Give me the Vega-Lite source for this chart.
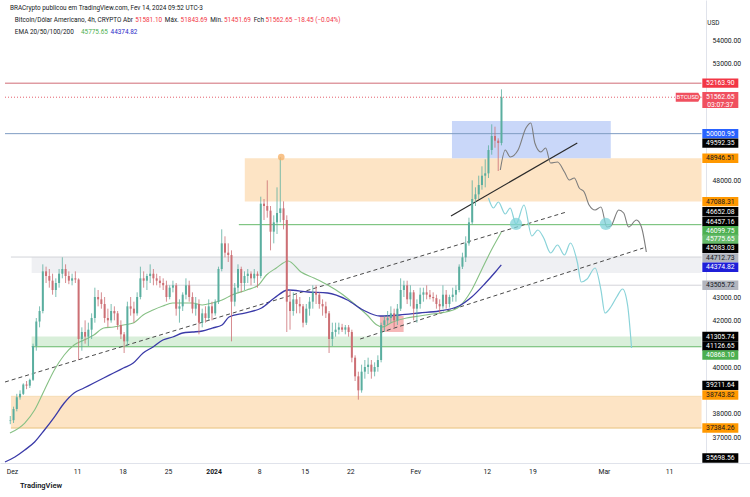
{
"$schema": "https://vega.github.io/schema/vega-lite/v6.json",
"width": 750, "height": 463,
"autosize": {"type": "none"},
"padding": {"left": 0, "top": 0, "right": 0, "bottom": 34},
"background": "#ffffff",
"config": {"view": {"stroke": null}, "font": "Roboto"},
"title": {"text": "TradingView", "orient": "bottom", "anchor": "start", "fontSize": 7.5, "fontWeight": 600, "color": "#131722", "offset": 7, "dx": 20},
"datasets": {
"bands": [
{"t1":"2023-11-30T20:20Z","t2":"2024-03-16T00:00Z","p1":38743.82,"p2":37384.26,"kind":"zone_orange"},
{"t1":"2024-01-05T19:00Z","t2":"2024-03-16T00:00Z","p1":48946.51,"p2":47088.31,"kind":"zone_orange"},
{"t1":"2023-12-04T00:45Z","t2":"2024-03-16T00:00Z","p1":44712.73,"p2":44030,"kind":"zone_gray"},
{"t1":"2023-12-04T00:45Z","t2":"2024-03-16T00:00Z","p1":41305.74,"p2":40868.10,"kind":"zone_green"},
{"t1":"2024-02-06T15:20Z","t2":"2024-03-02T01:10Z","p1":50543,"p2":48946.51,"kind":"zone_blue"},
{"t1":"2024-01-26T13:40Z","t2":"2024-01-30T05:00Z","p1":42186,"p2":41500,"kind":"zone_pink"}
],
"levels": [
{"t1":"2023-11-29T22:30Z","t2":"2024-03-16T00:00Z","p":52163.90,"kind":"lvl_red"},
{"t1":"2023-11-29T22:30Z","t2":"2024-03-16T00:00Z","p":50000.95,"kind":"lvl_blue"},
{"t1":"2024-01-04T21:10Z","t2":"2024-03-16T00:00Z","p":46099.75,"kind":"lvl_green"},
{"t1":"2023-12-04T00:45Z","t2":"2024-03-16T00:00Z","p":40868.10,"kind":"lvl_green"},
{"t1":"2023-12-24T15:50Z","t2":"2024-03-16T00:00Z","p":43505.72,"kind":"lvl_gray"},
{"t1":"2023-11-30T20:20Z","t2":"2024-03-16T00:00Z","p":44712.73,"kind":"lvl_gray"},
{"t1":"2023-11-30T20:20Z","t2":"2024-03-16T00:00Z","p":37384.26,"kind":"lvl_gold"},
{"t1":"2023-11-30T20:20Z","t2":"2024-03-16T00:00Z","p":38743.82,"kind":"lvl_goldlight"}
],
"current": [{"t1":"2023-11-29T22:30Z","t2":"2024-03-16T00:00Z","p":51562.65}],
"dashed": [
{"t1":"2023-11-29T22:30Z","p1":39357,"t2":"2024-02-24T05:30Z","p2":46643},
{"t1":"2024-01-23T12:45Z","p1":41200,"t2":"2024-03-07T01:25Z","p2":45100}
],
"solid": [{"t1":"2024-02-06T11:45Z","p1":46472,"t2":"2024-02-25T21:35Z","p2":49600}],
"emaA": [
{"t":"2023-11-30T16:48Z","p":37171},{"t":"2023-12-02T23:20Z","p":37600},{"t":"2023-12-04T11:45Z","p":38157},{"t":"2023-12-06T00:00Z","p":39014},{"t":"2023-12-07T12:30Z","p":39871},{"t":"2023-12-09T01:00Z","p":40514},{"t":"2023-12-10T13:20Z","p":40943},{"t":"2023-12-12T01:40Z","p":41157},{"t":"2023-12-13T14:10Z","p":41371},{"t":"2023-12-15T02:30Z","p":41671},{"t":"2023-12-16T15:00Z","p":41714},{"t":"2023-12-18T03:20Z","p":41800},{"t":"2023-12-19T15:40Z","p":41886},{"t":"2023-12-21T04:05Z","p":42229},{"t":"2023-12-22T16:30Z","p":42443},{"t":"2023-12-24T04:50Z","p":42614},{"t":"2023-12-25T17:15Z","p":42743},{"t":"2023-12-27T05:40Z","p":42743},{"t":"2023-12-28T18:00Z","p":42743},{"t":"2023-12-30T06:30Z","p":42657},{"t":"2023-12-31T19:00Z","p":42743},{"t":"2024-01-02T07:15Z","p":42871},{"t":"2024-01-03T19:40Z","p":43086},{"t":"2024-01-06T02:10Z","p":43300},{"t":"2024-01-07T21:50Z","p":43514},{"t":"2024-01-09T03:00Z","p":43943},{"t":"2024-01-10T15:20Z","p":44243},{"t":"2024-01-12T11:00Z","p":44543},{"t":"2024-01-14T10:20Z","p":44072},{"t":"2024-01-16T09:50Z","p":43815},{"t":"2024-01-18T12:40Z","p":43514},{"t":"2024-01-20T12:00Z","p":43172},{"t":"2024-01-22T11:20Z","p":42743},{"t":"2024-01-24T14:10Z","p":42229},{"t":"2024-01-26T02:40Z","p":41800},{"t":"2024-01-26T20:50Z","p":41714},{"t":"2024-01-28T13:00Z","p":41929},{"t":"2024-01-30T15:50Z","p":42100},{"t":"2024-02-01T15:10Z","p":42186},{"t":"2024-02-03T14:25Z","p":42272},{"t":"2024-02-05T17:30Z","p":42357},{"t":"2024-02-07T16:50Z","p":42572},{"t":"2024-02-09T16:05Z","p":43300},{"t":"2024-02-11T04:30Z","p":44157},{"t":"2024-02-12T16:50Z","p":45014},{"t":"2024-02-14T05:20Z","p":45776}
],
"emaB": [
{"t":"2023-11-29T22:30Z","p":35928},{"t":"2023-12-01T10:55Z","p":36143},{"t":"2023-12-02T23:20Z","p":36443},{"t":"2023-12-04T11:45Z","p":36786},{"t":"2023-12-06T00:00Z","p":37300},{"t":"2023-12-07T12:30Z","p":37857},{"t":"2023-12-09T01:00Z","p":38457},{"t":"2023-12-10T13:20Z","p":38886},{"t":"2023-12-12T01:40Z","p":39100},{"t":"2023-12-13T14:10Z","p":39314},{"t":"2023-12-15T02:30Z","p":39529},{"t":"2023-12-16T15:00Z","p":39743},{"t":"2023-12-18T03:20Z","p":39957},{"t":"2023-12-19T15:40Z","p":40171},{"t":"2023-12-21T04:05Z","p":40600},{"t":"2023-12-22T16:30Z","p":40857},{"t":"2023-12-24T04:50Z","p":41157},{"t":"2023-12-25T17:15Z","p":41286},{"t":"2023-12-27T05:40Z","p":41457},{"t":"2023-12-28T18:00Z","p":41500},{"t":"2023-12-30T06:30Z","p":41543},{"t":"2023-12-31T19:00Z","p":41671},{"t":"2024-01-02T07:15Z","p":41800},{"t":"2024-01-03T08:40Z","p":42143},{"t":"2024-01-05T19:00Z","p":42314},{"t":"2024-01-08T08:50Z","p":42529},{"t":"2024-01-10T08:10Z","p":42957},{"t":"2024-01-12T11:00Z","p":43300},{"t":"2024-01-15T12:00Z","p":43214},{"t":"2024-01-18T12:40Z","p":43172},{"t":"2024-01-21T13:30Z","p":42871},{"t":"2024-01-23T23:45Z","p":42443},{"t":"2024-01-26T13:40Z","p":42186},{"t":"2024-01-29T14:25Z","p":42229},{"t":"2024-02-01T15:10Z","p":42314},{"t":"2024-02-04T16:00Z","p":42400},{"t":"2024-02-07T16:50Z","p":42614},{"t":"2024-02-09T16:05Z","p":43000},{"t":"2024-02-11T19:00Z","p":43600},{"t":"2024-02-13T07:25Z","p":44072},{"t":"2024-02-14T05:20Z","p":44375}
],
"projGray": [
{"t":"2024-02-14T01:40Z","p":48443},{"t":"2024-02-14T19:55Z","p":49300},{"t":"2024-02-15T14:00Z","p":49000},{"t":"2024-02-16T19:10Z","p":49300},{"t":"2024-02-18T00:15Z","p":50243},{"t":"2024-02-18T18:30Z","p":50458},{"t":"2024-02-19T09:05Z","p":49600},{"t":"2024-02-20T07:00Z","p":49215},{"t":"2024-02-21T01:00Z","p":49386},{"t":"2024-02-21T19:10Z","p":48743},{"t":"2024-02-22T20:40Z","p":48786},{"t":"2024-02-23T22:20Z","p":48358},{"t":"2024-02-24T16:20Z","p":48015},{"t":"2024-02-25T10:30Z","p":48100},{"t":"2024-02-26T04:50Z","p":47672},{"t":"2024-02-26T23:00Z","p":47500},{"t":"2024-02-27T17:15Z","p":46943},{"t":"2024-02-28T15:10Z","p":46729},{"t":"2024-02-29T13:00Z","p":46857},{"t":"2024-03-01T10:50Z","p":46000},{"t":"2024-03-02T01:25Z","p":46043},{"t":"2024-03-03T06:30Z","p":46729},{"t":"2024-03-04T00:45Z","p":46600},{"t":"2024-03-04T19:00Z","p":46000},{"t":"2024-03-06T00:00Z","p":46300},{"t":"2024-03-06T18:15Z","p":46000},{"t":"2024-03-07T12:15Z","p":44929}
],
"projCyan": [
{"t":"2024-02-12T06:00Z","p":47243},{"t":"2024-02-13T00:15Z","p":46815},{"t":"2024-02-13T18:30Z","p":47072},{"t":"2024-02-14T19:55Z","p":46557},{"t":"2024-02-15T14:00Z","p":46815},{"t":"2024-02-16T11:45Z","p":46129},{"t":"2024-02-17T17:00Z","p":46943},{"t":"2024-02-18T22:05Z","p":45615},{"t":"2024-02-19T20:00Z","p":45872},{"t":"2024-02-20T17:45Z","p":45529},{"t":"2024-02-21T19:10Z","p":44886},{"t":"2024-02-22T20:40Z","p":45229},{"t":"2024-02-23T22:20Z","p":44800},{"t":"2024-02-24T20:10Z","p":45314},{"t":"2024-02-25T21:35Z","p":44500},{"t":"2024-02-26T12:00Z","p":43643},{"t":"2024-02-27T09:50Z","p":43772},{"t":"2024-02-28T15:10Z","p":44243},{"t":"2024-02-29T13:00Z","p":43300},{"t":"2024-03-01T03:35Z","p":42314},{"t":"2024-03-02T01:25Z","p":42572},{"t":"2024-03-02T23:00Z","p":43000},{"t":"2024-03-03T20:55Z","p":43343},{"t":"2024-03-04T15:10Z","p":42657},{"t":"2024-03-05T05:50Z","p":40814}
],
"candles": [
{"t":"2023-11-30T18:00Z","o":37700,"h":37900,"l":37550,"c":37720},
{"t":"2023-12-01T06:00Z","o":37720,"h":38300,"l":37600,"c":38200},
{"t":"2023-12-01T18:00Z","o":38200,"h":38850,"l":38100,"c":38700},
{"t":"2023-12-02T06:00Z","o":38700,"h":39000,"l":38600,"c":38850},
{"t":"2023-12-02T18:00Z","o":38850,"h":39300,"l":38800,"c":39250},
{"t":"2023-12-03T06:00Z","o":39250,"h":39400,"l":39050,"c":39200},
{"t":"2023-12-03T18:00Z","o":39200,"h":39500,"l":39100,"c":39450},
{"t":"2023-12-04T06:00Z","o":39450,"h":41000,"l":39400,"c":40900},
{"t":"2023-12-04T18:00Z","o":40900,"h":42100,"l":40700,"c":41950},
{"t":"2023-12-05T06:00Z","o":41950,"h":42600,"l":41700,"c":42400},
{"t":"2023-12-05T18:00Z","o":42400,"h":44400,"l":42300,"c":44100},
{"t":"2023-12-06T06:00Z","o":44100,"h":44300,"l":43600,"c":43900},
{"t":"2023-12-06T18:00Z","o":43900,"h":44200,"l":43400,"c":43700},
{"t":"2023-12-07T06:00Z","o":43700,"h":44000,"l":43100,"c":43300},
{"t":"2023-12-07T18:00Z","o":43300,"h":43800,"l":43000,"c":43600},
{"t":"2023-12-08T06:00Z","o":43600,"h":44200,"l":43400,"c":44000},
{"t":"2023-12-08T18:00Z","o":44000,"h":44700,"l":43800,"c":44200},
{"t":"2023-12-09T06:00Z","o":44200,"h":44400,"l":43600,"c":43900},
{"t":"2023-12-09T18:00Z","o":43900,"h":44100,"l":43550,"c":43700},
{"t":"2023-12-10T06:00Z","o":43700,"h":44000,"l":43500,"c":43800},
{"t":"2023-12-10T18:00Z","o":43800,"h":44100,"l":43600,"c":43750},
{"t":"2023-12-11T06:00Z","o":43750,"h":43800,"l":40300,"c":41200},
{"t":"2023-12-11T18:00Z","o":41200,"h":41700,"l":40700,"c":41500},
{"t":"2023-12-12T06:00Z","o":41500,"h":42000,"l":41000,"c":41300},
{"t":"2023-12-12T18:00Z","o":41300,"h":41900,"l":40900,"c":41600},
{"t":"2023-12-13T06:00Z","o":41600,"h":42300,"l":41200,"c":42100},
{"t":"2023-12-13T18:00Z","o":42100,"h":43400,"l":41900,"c":43000},
{"t":"2023-12-14T06:00Z","o":43000,"h":43300,"l":42600,"c":42900},
{"t":"2023-12-14T18:00Z","o":42900,"h":43200,"l":42500,"c":42700},
{"t":"2023-12-15T06:00Z","o":42700,"h":43000,"l":41900,"c":42100},
{"t":"2023-12-15T18:00Z","o":42100,"h":42500,"l":41700,"c":42000},
{"t":"2023-12-16T06:00Z","o":42000,"h":42700,"l":41900,"c":42400},
{"t":"2023-12-16T18:00Z","o":42400,"h":42600,"l":42000,"c":42300},
{"t":"2023-12-17T06:00Z","o":42300,"h":42400,"l":41600,"c":41800},
{"t":"2023-12-17T18:00Z","o":41800,"h":42000,"l":41200,"c":41400},
{"t":"2023-12-18T06:00Z","o":41400,"h":41500,"l":40600,"c":41100},
{"t":"2023-12-18T18:00Z","o":41100,"h":42800,"l":40900,"c":42600},
{"t":"2023-12-19T06:00Z","o":42600,"h":43000,"l":42200,"c":42500},
{"t":"2023-12-19T18:00Z","o":42500,"h":42800,"l":41900,"c":42300},
{"t":"2023-12-20T06:00Z","o":42300,"h":43200,"l":42200,"c":43000},
{"t":"2023-12-20T18:00Z","o":43000,"h":44300,"l":42900,"c":43800},
{"t":"2023-12-21T06:00Z","o":43800,"h":44100,"l":43400,"c":43700},
{"t":"2023-12-21T18:00Z","o":43700,"h":44000,"l":43300,"c":43900},
{"t":"2023-12-22T06:00Z","o":43900,"h":44400,"l":43600,"c":44000},
{"t":"2023-12-22T18:00Z","o":44000,"h":44200,"l":43500,"c":43800},
{"t":"2023-12-23T06:00Z","o":43800,"h":44000,"l":43500,"c":43700},
{"t":"2023-12-23T18:00Z","o":43700,"h":43900,"l":43400,"c":43600},
{"t":"2023-12-24T06:00Z","o":43600,"h":43800,"l":43300,"c":43500},
{"t":"2023-12-24T18:00Z","o":43500,"h":43700,"l":42800,"c":43000},
{"t":"2023-12-25T06:00Z","o":43000,"h":43500,"l":42900,"c":43400},
{"t":"2023-12-25T18:00Z","o":43400,"h":43700,"l":43200,"c":43500},
{"t":"2023-12-26T06:00Z","o":43500,"h":43600,"l":42200,"c":42500},
{"t":"2023-12-26T18:00Z","o":42500,"h":42900,"l":41900,"c":42600},
{"t":"2023-12-27T06:00Z","o":42600,"h":43200,"l":42400,"c":43100},
{"t":"2023-12-27T18:00Z","o":43100,"h":43800,"l":42900,"c":43500},
{"t":"2023-12-28T06:00Z","o":43500,"h":43700,"l":42800,"c":43000},
{"t":"2023-12-28T18:00Z","o":43000,"h":43200,"l":42300,"c":42500},
{"t":"2023-12-29T06:00Z","o":42500,"h":43000,"l":42200,"c":42700},
{"t":"2023-12-29T18:00Z","o":42700,"h":42900,"l":41400,"c":41900},
{"t":"2023-12-30T06:00Z","o":41900,"h":42500,"l":41700,"c":42300},
{"t":"2023-12-30T18:00Z","o":42300,"h":42600,"l":41900,"c":42100},
{"t":"2023-12-31T06:00Z","o":42100,"h":42900,"l":42000,"c":42600},
{"t":"2023-12-31T18:00Z","o":42600,"h":42800,"l":42000,"c":42300},
{"t":"2024-01-01T06:00Z","o":42300,"h":42900,"l":42200,"c":42800},
{"t":"2024-01-01T18:00Z","o":42800,"h":44300,"l":42700,"c":44200},
{"t":"2024-01-02T06:00Z","o":44200,"h":45900,"l":44100,"c":45300},
{"t":"2024-01-02T18:00Z","o":45300,"h":45600,"l":44700,"c":44900},
{"t":"2024-01-03T06:00Z","o":44900,"h":45300,"l":44500,"c":44800},
{"t":"2024-01-03T18:00Z","o":44800,"h":45000,"l":41100,"c":42800},
{"t":"2024-01-04T06:00Z","o":42800,"h":43600,"l":42600,"c":43400},
{"t":"2024-01-04T18:00Z","o":43400,"h":44400,"l":43200,"c":44200},
{"t":"2024-01-05T06:00Z","o":44200,"h":44300,"l":43200,"c":43600},
{"t":"2024-01-05T18:00Z","o":43600,"h":44100,"l":43300,"c":43900},
{"t":"2024-01-06T06:00Z","o":43900,"h":44200,"l":43600,"c":44000},
{"t":"2024-01-06T18:00Z","o":44000,"h":44100,"l":43500,"c":43800},
{"t":"2024-01-07T06:00Z","o":43800,"h":44200,"l":43600,"c":44000},
{"t":"2024-01-07T18:00Z","o":44000,"h":44100,"l":43400,"c":43900},
{"t":"2024-01-08T06:00Z","o":43900,"h":47300,"l":43800,"c":47000},
{"t":"2024-01-08T18:00Z","o":47000,"h":47200,"l":46300,"c":46900},
{"t":"2024-01-09T06:00Z","o":46900,"h":48000,"l":46400,"c":46700},
{"t":"2024-01-09T18:00Z","o":46700,"h":46900,"l":45000,"c":45800},
{"t":"2024-01-10T06:00Z","o":45800,"h":46500,"l":45300,"c":46200},
{"t":"2024-01-10T18:00Z","o":46200,"h":47700,"l":45700,"c":46600},
{"t":"2024-01-11T06:00Z","o":46600,"h":49000,"l":46200,"c":46800},
{"t":"2024-01-11T18:00Z","o":46800,"h":47100,"l":45900,"c":46300},
{"t":"2024-01-12T06:00Z","o":46300,"h":46500,"l":41500,"c":42800},
{"t":"2024-01-12T18:00Z","o":42800,"h":43300,"l":41600,"c":42400},
{"t":"2024-01-13T06:00Z","o":42400,"h":43200,"l":42200,"c":42900},
{"t":"2024-01-13T18:00Z","o":42900,"h":43100,"l":42300,"c":42700},
{"t":"2024-01-14T06:00Z","o":42700,"h":43000,"l":42300,"c":42600},
{"t":"2024-01-14T18:00Z","o":42600,"h":42700,"l":41700,"c":41900},
{"t":"2024-01-15T06:00Z","o":41900,"h":42700,"l":41800,"c":42500},
{"t":"2024-01-15T18:00Z","o":42500,"h":43000,"l":42200,"c":42800},
{"t":"2024-01-16T06:00Z","o":42800,"h":43500,"l":42500,"c":43200},
{"t":"2024-01-16T18:00Z","o":43200,"h":43500,"l":42700,"c":43100},
{"t":"2024-01-17T06:00Z","o":43100,"h":43200,"l":42500,"c":42700},
{"t":"2024-01-17T18:00Z","o":42700,"h":42900,"l":42200,"c":42600},
{"t":"2024-01-18T06:00Z","o":42600,"h":42800,"l":42100,"c":42300},
{"t":"2024-01-18T18:00Z","o":42300,"h":42400,"l":40600,"c":41200},
{"t":"2024-01-19T06:00Z","o":41200,"h":41900,"l":40900,"c":41500},
{"t":"2024-01-19T18:00Z","o":41500,"h":41900,"l":41300,"c":41600},
{"t":"2024-01-20T06:00Z","o":41600,"h":41900,"l":41400,"c":41700},
{"t":"2024-01-20T18:00Z","o":41700,"h":41850,"l":41500,"c":41600},
{"t":"2024-01-21T06:00Z","o":41600,"h":41800,"l":41400,"c":41700},
{"t":"2024-01-21T18:00Z","o":41700,"h":41800,"l":41300,"c":41500},
{"t":"2024-01-22T06:00Z","o":41500,"h":41600,"l":40200,"c":40400},
{"t":"2024-01-22T18:00Z","o":40400,"h":40500,"l":39400,"c":39600},
{"t":"2024-01-23T06:00Z","o":39600,"h":39800,"l":38600,"c":39000},
{"t":"2024-01-23T18:00Z","o":39000,"h":40100,"l":38900,"c":39800},
{"t":"2024-01-24T06:00Z","o":39800,"h":40300,"l":39500,"c":40000},
{"t":"2024-01-24T18:00Z","o":40000,"h":40400,"l":39700,"c":40100},
{"t":"2024-01-25T06:00Z","o":40100,"h":40300,"l":39500,"c":39800},
{"t":"2024-01-25T18:00Z","o":39800,"h":40200,"l":39600,"c":40000},
{"t":"2024-01-26T06:00Z","o":40000,"h":40500,"l":39800,"c":40300},
{"t":"2024-01-26T18:00Z","o":40300,"h":41900,"l":40200,"c":41800},
{"t":"2024-01-27T06:00Z","o":41800,"h":42200,"l":41500,"c":42000},
{"t":"2024-01-27T18:00Z","o":42000,"h":42400,"l":41800,"c":42100},
{"t":"2024-01-28T06:00Z","o":42100,"h":42600,"l":41900,"c":42300},
{"t":"2024-01-28T18:00Z","o":42300,"h":42500,"l":41700,"c":42000},
{"t":"2024-01-29T06:00Z","o":42000,"h":42700,"l":41800,"c":42500},
{"t":"2024-01-29T18:00Z","o":42500,"h":43800,"l":42400,"c":43300},
{"t":"2024-01-30T06:00Z","o":43300,"h":43700,"l":43000,"c":43500},
{"t":"2024-01-30T18:00Z","o":43500,"h":43700,"l":42700,"c":42900},
{"t":"2024-01-31T06:00Z","o":42900,"h":43500,"l":42600,"c":43200},
{"t":"2024-01-31T18:00Z","o":43200,"h":43300,"l":42000,"c":42500},
{"t":"2024-02-01T06:00Z","o":42500,"h":42900,"l":41900,"c":42700},
{"t":"2024-02-01T18:00Z","o":42700,"h":43400,"l":42500,"c":43100},
{"t":"2024-02-02T06:00Z","o":43100,"h":43400,"l":42800,"c":43200},
{"t":"2024-02-02T18:00Z","o":43200,"h":43500,"l":42900,"c":43100},
{"t":"2024-02-03T06:00Z","o":43100,"h":43300,"l":42900,"c":43000},
{"t":"2024-02-03T18:00Z","o":43000,"h":43200,"l":42800,"c":42950},
{"t":"2024-02-04T06:00Z","o":42950,"h":43100,"l":42500,"c":42700},
{"t":"2024-02-04T18:00Z","o":42700,"h":42900,"l":42300,"c":42600},
{"t":"2024-02-05T06:00Z","o":42600,"h":43500,"l":42500,"c":43100},
{"t":"2024-02-05T18:00Z","o":43100,"h":43300,"l":42500,"c":42700},
{"t":"2024-02-06T06:00Z","o":42700,"h":43100,"l":42550,"c":43000},
{"t":"2024-02-06T18:00Z","o":43000,"h":43400,"l":42800,"c":43100},
{"t":"2024-02-07T06:00Z","o":43100,"h":43500,"l":42800,"c":43300},
{"t":"2024-02-07T18:00Z","o":43300,"h":44400,"l":43200,"c":44300},
{"t":"2024-02-08T06:00Z","o":44300,"h":44900,"l":44200,"c":44700},
{"t":"2024-02-08T18:00Z","o":44700,"h":45600,"l":44500,"c":45300},
{"t":"2024-02-09T06:00Z","o":45300,"h":46400,"l":45200,"c":46200},
{"t":"2024-02-09T18:00Z","o":46200,"h":48000,"l":46100,"c":47200},
{"t":"2024-02-10T06:00Z","o":47200,"h":47700,"l":46900,"c":47400},
{"t":"2024-02-10T18:00Z","o":47400,"h":48200,"l":47200,"c":47800},
{"t":"2024-02-11T06:00Z","o":47800,"h":48600,"l":47600,"c":48200},
{"t":"2024-02-11T18:00Z","o":48200,"h":48900,"l":47700,"c":48300},
{"t":"2024-02-12T06:00Z","o":48300,"h":49500,"l":48100,"c":49300},
{"t":"2024-02-12T18:00Z","o":49300,"h":50400,"l":49100,"c":49900},
{"t":"2024-02-13T06:00Z","o":49900,"h":50300,"l":49400,"c":49700},
{"t":"2024-02-13T18:00Z","o":49700,"h":49800,"l":48400,"c":49600},
{"t":"2024-02-14T06:00Z","o":49600,"h":51900,"l":49500,"c":51560}
],
"circles": [{"t":"2024-02-16T11:45Z","p":46129},{"t":"2024-03-01T07:00Z","p":46129}],
"dot": [{"t":"2024-01-11T09:35Z","p":49000}],
"boxes": [
{"p":52163.90,"label":"52163.90","kind":"b_red"},
{"p":50000.95,"label":"50000.95","kind":"b_blue"},
{"p":49592.35,"label":"49592.35","kind":"b_black"},
{"p":48946.51,"label":"48946.51","kind":"b_orange"},
{"p":47088.31,"label":"47088.31","kind":"b_orange"},
{"p":46652.08,"label":"46652.08","kind":"b_black"},
{"p":46228,"label":"46457.16","kind":"b_black"},
{"p":45842,"label":"46099.75","kind":"b_green"},
{"p":45473,"label":"45775.65","kind":"b_ema50"},
{"p":45083.03,"label":"45083.03","kind":"b_black"},
{"p":44680,"label":"44712.73","kind":"b_gray"},
{"p":44273,"label":"44374.82","kind":"b_ema100"},
{"p":43505.72,"label":"43505.72","kind":"b_gray"},
{"p":41305.74,"label":"41305.74","kind":"b_black"},
{"p":40900,"label":"41126.65","kind":"b_black"},
{"p":40514,"label":"40868.10","kind":"b_green"},
{"p":39211.64,"label":"39211.64","kind":"b_black"},
{"p":38800,"label":"38743.82","kind":"b_orange"},
{"p":37384.26,"label":"37384.26","kind":"b_orange"},
{"p":36100,"label":"35698.56","kind":"b_black"}
],
"lastbox": [{"p":51562.65}],
"lasttext": [{"p":51562.65,"label":"51562.65"},{"p":51250,"label":"03:07:37"}],
"tag": [{"p":51562.65,"label":"BTCUSD"}],
"header": [
{"t":"2023-11-30T16:48Z","p":55387,"s":"BRACrypto publicou em TradingView.com, Fev 14, 2024 09:52 UTC-3","kind":"h_dark"},
{"t":"2023-12-01T10:55Z","p":54872,"s":"Bitcoin/Dólar Americano, 4h, CRYPTO  Abr","kind":"h_dark"},
{"t":"2023-12-19T23:00Z","p":54872,"s":"51581.10","kind":"h_red"},
{"t":"2023-12-24T12:10Z","p":54872,"s":"Máx.","kind":"h_dark"},
{"t":"2023-12-26T22:20Z","p":54872,"s":"51843.69","kind":"h_red"},
{"t":"2023-12-31T11:35Z","p":54872,"s":"Mín.","kind":"h_dark"},
{"t":"2024-01-02T14:30Z","p":54872,"s":"51451.69","kind":"h_red"},
{"t":"2024-01-07T03:45Z","p":54872,"s":"Fch","kind":"h_dark"},
{"t":"2024-01-08T23:25Z","p":54872,"s":"51562.65 −18.45 (−0.04%)","kind":"h_red"},
{"t":"2023-12-01T10:55Z","p":54358,"s":"EMA 20/50/100/200","kind":"h_dark"},
{"t":"2023-12-11T14:50Z","p":54358,"s":"45775.65","kind":"h_green"},
{"t":"2023-12-16T04:00Z","p":54358,"s":"44374.82","kind":"h_blue"},
{"t":"2024-03-16T21:30Z","p":54744,"s":"USD","kind":"h_dark"}
]
},
"layer": [
{"data": {"name": "bands"}, "mark": {"type": "rect"},
 "encoding": {
  "x": {"field": "t1", "type": "temporal",
   "scale": {"type": "utc", "domain": [{"year": 2023, "month": 11, "date": 29, "hours": 22, "minutes": 30, "utc": true}, {"year": 2024, "month": 3, "date": 22, "hours": 16, "minutes": 19, "utc": true}]},
   "axis": {"title": null, "grid": false, "ticks": false, "domain": true, "domainColor": "#e0e3eb", "labelFontSize": 6.8, "labelColor": "#131722", "labelPadding": 5, "labelFlush": false, "labelOverlap": false,
    "values": [{"year":2023,"month":12,"date":1,"utc":true},{"year":2023,"month":12,"date":11,"utc":true},{"year":2023,"month":12,"date":18,"utc":true},{"year":2023,"month":12,"date":25,"utc":true},{"year":2024,"month":1,"date":1,"utc":true},{"year":2024,"month":1,"date":8,"utc":true},{"year":2024,"month":1,"date":15,"utc":true},{"year":2024,"month":1,"date":22,"utc":true},{"year":2024,"month":2,"date":1,"utc":true},{"year":2024,"month":2,"date":12,"utc":true},{"year":2024,"month":2,"date":19,"utc":true},{"year":2024,"month":3,"date":1,"utc":true},{"year":2024,"month":3,"date":11,"utc":true}],
    "labelExpr": "utcdate(datum.value)==1 ? (utcmonth(datum.value)==0 ? '' + utcyear(datum.value) : (utcmonth(datum.value)==1 ? 'Fev' : (utcmonth(datum.value)==2 ? 'Mar' : 'Dez'))) : '' + utcdate(datum.value)",
    "labelFontWeight": {"condition": {"test": "utcmonth(datum.value)==0 && utcdate(datum.value)==1", "value": "bold"}, "value": "normal"}}},
  "x2": {"field": "t2"},
  "y": {"field": "p1", "type": "quantitative",
   "scale": {"domain": [35886, 55729], "nice": false, "zero": false},
   "axis": {"orient": "right", "offset": -44, "title": null, "grid": false, "ticks": false, "domain": true, "domainColor": "#e0e3eb", "labelFontSize": 6.8, "labelColor": "#131722", "labelPadding": 6, "labelOverlap": false, "format": ".2f",
    "values": [37000,38000,40000,42000,43000,48000,53000,54000]}},
  "y2": {"field": "p2"},
  "color": {"field": "kind", "type": "nominal", "legend": null,
   "scale": {"domain": ["zone_orange","zone_gray","zone_green","zone_blue","zone_pink","lvl_red","lvl_blue","lvl_green","lvl_gray","lvl_gold","lvl_goldlight","b_red","b_blue","b_black","b_orange","b_green","b_ema50","b_gray","b_ema100","h_dark","h_red","h_green","h_blue"],
    "range": ["#fde4c5","#eff0f3","#d9efda","#c9d7f9","#f6b8b8","#d06c76","#7f9dc3","#66b96a","#d3d4d9","#e8c27c","#f6dcb4","#f23645","#2962ff","#000000","#ff9800","#4caf50","#66bb6a","#b2b5be","#1f1fd8","#131722","#f23645","#4caf50","#2b2bc8"]}}}},
{"data": {"name": "levels"}, "mark": {"type": "rule", "strokeWidth": 1},
 "encoding": {"x": {"field": "t1", "type": "temporal"}, "x2": {"field": "t2"}, "y": {"field": "p", "type": "quantitative"}, "color": {"field": "kind", "type": "nominal", "legend": null}}},
{"data": {"name": "current"}, "mark": {"type": "rule", "strokeWidth": 1, "strokeDash": [1, 2], "color": "#e4606c"},
 "encoding": {"x": {"field": "t1", "type": "temporal"}, "x2": {"field": "t2"}, "y": {"field": "p", "type": "quantitative"}}},
{"data": {"name": "dashed"}, "mark": {"type": "rule", "strokeWidth": 1, "strokeDash": [4, 3], "color": "#4a4a4a"},
 "encoding": {"x": {"field": "t1", "type": "temporal"}, "x2": {"field": "t2"}, "y": {"field": "p1", "type": "quantitative"}, "y2": {"field": "p2"}}},
{"data": {"name": "solid"}, "mark": {"type": "rule", "strokeWidth": 1.2, "color": "#2a2a2a"},
 "encoding": {"x": {"field": "t1", "type": "temporal"}, "x2": {"field": "t2"}, "y": {"field": "p1", "type": "quantitative"}, "y2": {"field": "p2"}}},
{"data": {"name": "emaA"}, "mark": {"type": "line", "strokeWidth": 1.1, "color": "#86c084", "interpolate": "monotone"},
 "encoding": {"x": {"field": "t", "type": "temporal"}, "y": {"field": "p", "type": "quantitative"}}},
{"data": {"name": "emaB"}, "mark": {"type": "line", "strokeWidth": 1.3, "color": "#3a3aa8", "interpolate": "monotone"},
 "encoding": {"x": {"field": "t", "type": "temporal"}, "y": {"field": "p", "type": "quantitative"}}},
{"data": {"name": "projGray"}, "mark": {"type": "line", "strokeWidth": 1.1, "color": "#7d7d7d", "interpolate": "monotone"},
 "encoding": {"x": {"field": "t", "type": "temporal"}, "y": {"field": "p", "type": "quantitative"}}},
{"data": {"name": "projCyan"}, "mark": {"type": "line", "strokeWidth": 1.2, "color": "#8ad3d9", "interpolate": "monotone"},
 "encoding": {"x": {"field": "t", "type": "temporal"}, "y": {"field": "p", "type": "quantitative"}}},
{"data": {"name": "candles"}, "mark": {"type": "rule", "strokeWidth": 0.8},
 "encoding": {"x": {"field": "t", "type": "temporal"}, "y": {"field": "l", "type": "quantitative"}, "y2": {"field": "h"},
  "color": {"condition": {"test": "datum.c >= datum.o", "value": "#5aae9f"}, "value": "#cc6f74"}}},
{"data": {"name": "candles"}, "mark": {"type": "bar", "size": 2},
 "encoding": {"x": {"field": "t", "type": "temporal"}, "y": {"field": "o", "type": "quantitative"}, "y2": {"field": "c"},
  "color": {"condition": {"test": "datum.c >= datum.o", "value": "#5aae9f"}, "value": "#cc6f74"}}},
{"data": {"name": "circles"}, "mark": {"type": "point", "filled": true, "size": 150, "color": "#7fd3da", "opacity": 0.75},
 "encoding": {"x": {"field": "t", "type": "temporal"}, "y": {"field": "p", "type": "quantitative"}}},
{"data": {"name": "dot"}, "mark": {"type": "point", "filled": true, "size": 45, "color": "#f6b36b", "opacity": 0.8},
 "encoding": {"x": {"field": "t", "type": "temporal"}, "y": {"field": "p", "type": "quantitative"}}},
{"data": {"name": "boxes"}, "mark": {"type": "point", "filled": true, "opacity": 1, "size": 1296, "shape": "M-1,-0.26H1V0.26H-1Z"},
 "encoding": {"x": {"datum": {"year": 2024, "month": 3, "date": 18, "hours": 21, "minutes": 17, "utc": true}, "type": "temporal"}, "y": {"field": "p", "type": "quantitative"}, "color": {"field": "kind", "type": "nominal", "legend": null}}},
{"data": {"name": "boxes"}, "mark": {"type": "text", "fontSize": 6.8, "align": "center", "baseline": "middle"},
 "encoding": {"x": {"datum": {"year": 2024, "month": 3, "date": 18, "hours": 21, "minutes": 17, "utc": true}, "type": "temporal"}, "y": {"field": "p", "type": "quantitative"}, "text": {"field": "label"},
  "color": {"condition": {"test": "datum.kind == 'b_orange' || datum.kind == 'b_gray'", "value": "#131722"}, "value": "#ffffff"}}},
{"data": {"name": "lastbox"}, "mark": {"type": "point", "filled": true, "opacity": 1, "size": 1296, "shape": "M-1,-0.29H1V0.6H-1Z", "color": "#f0505f"},
 "encoding": {"x": {"datum": {"year": 2024, "month": 3, "date": 18, "hours": 21, "minutes": 17, "utc": true}, "type": "temporal"}, "y": {"field": "p", "type": "quantitative"}}},
{"data": {"name": "lasttext"}, "mark": {"type": "text", "fontSize": 6.8, "align": "center", "baseline": "middle", "color": "#ffffff"},
 "encoding": {"x": {"datum": {"year": 2024, "month": 3, "date": 18, "hours": 21, "minutes": 17, "utc": true}, "type": "temporal"}, "y": {"field": "p", "type": "quantitative"}, "text": {"field": "label"}}},
{"data": {"name": "tag"}, "mark": {"type": "point", "filled": true, "opacity": 1, "size": 625, "shape": "M-1,-0.36H0.8L1,0L0.8,0.36H-1Z", "color": "#f0505f"},
 "encoding": {"x": {"datum": {"year": 2024, "month": 3, "date": 13, "hours": 23, "utc": true}, "type": "temporal"}, "y": {"field": "p", "type": "quantitative"}}},
{"data": {"name": "tag"}, "mark": {"type": "text", "fontSize": 6, "align": "center", "baseline": "middle", "color": "#ffffff"},
 "encoding": {"x": {"datum": {"year": 2024, "month": 3, "date": 13, "hours": 21, "utc": true}, "type": "temporal"}, "y": {"field": "p", "type": "quantitative"}, "text": {"field": "label"}}},
{"data": {"name": "header"}, "mark": {"type": "text", "fontSize": 6.4, "align": "left", "baseline": "middle"},
 "encoding": {"x": {"field": "t", "type": "temporal"}, "y": {"field": "p", "type": "quantitative"}, "text": {"field": "s"}, "color": {"field": "kind", "type": "nominal", "legend": null}}}
]
}
